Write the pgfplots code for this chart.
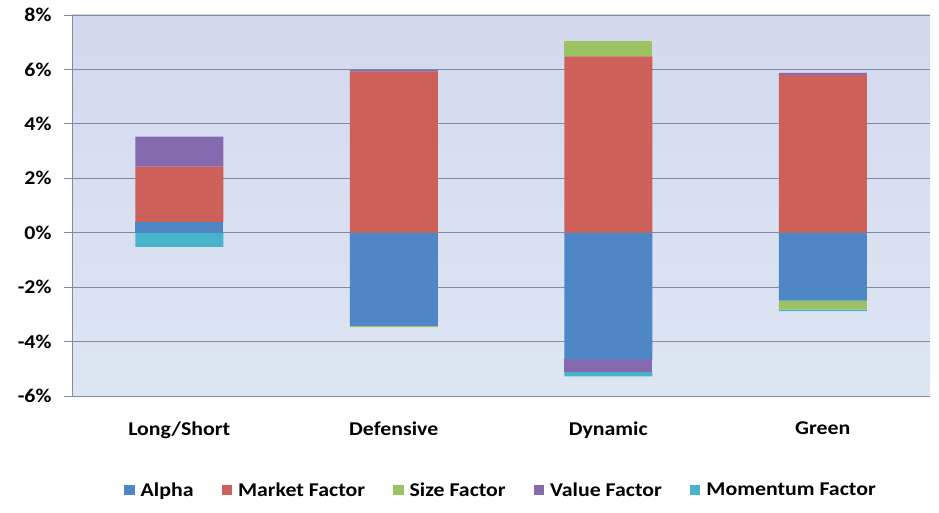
\documentclass[border=0pt]{standalone}
\usepackage{fontspec}
\setmainfont{Carlito}[FakeStretch=1.12]
\usepackage{pgfplots}
\usepackage{pgfplotstable}
\pgfplotsset{compat=1.18}
\definecolor{cAlpha}{RGB}{79,134,198}
\definecolor{cMarket}{RGB}{205,96,88}
\definecolor{cSize}{RGB}{155,195,100}
\definecolor{cValue}{RGB}{134,106,176}
\definecolor{cMom}{RGB}{72,180,204}
\definecolor{gridc}{RGB}{130,138,160}
\definecolor{bgtop}{RGB}{211,217,238}
\definecolor{bgbot}{RGB}{221,230,243}
\newcommand\lf{\fontsize{19.5}{22}\selectfont\bfseries}

\pgfplotstableread{
x alpha market size value mom
0 0.38 2.05 0 1.10 0
1 0 5.92 0 0.06 0
2 0 6.48 0.56 0 0
3 0 5.80 0 0.07 0
}\postab
\pgfplotstableread{
x alpha market size value mom
0 0 0 0 0 -0.52
1 -3.42 0 -0.05 0 0
2 -4.65 0 0 -0.45 -0.18
3 -2.50 0 -0.33 0 -0.05
}\negtab

\pgfplotsset{base/.style={
  scale only axis, width=858pt, height=381pt, at={(72pt,117pt)}, anchor=south west,
  xmin=-0.5, xmax=3.5, ymin=-6, ymax=8,
  ybar stacked, bar width=88pt,
  axis line style={draw=none},
}}

\begin{document}
\begin{tikzpicture}
\path[use as bounding box] (0,0) rectangle (939pt,513pt);
\begin{axis}[base,
  axis background/.style={top color=bgtop, bottom color=bgbot},
  ytick={-6,-4,...,8}, yticklabels={-6\%,-4\%,-2\%,0\%,2\%,4\%,6\%,8\%},
  ytick pos=left, tick align=outside, major tick length=8pt,
  ytick style={gridc, line width=0.8pt},
  yticklabel style={font=\lf, xshift=-9pt},
  ymajorgrids, grid style={gridc, line width=0.8pt},
  xtick={0,1,2,3}, xticklabels={Long/Short,Defensive,Dynamic,Green},
  xtick style={draw=none},
  xticklabel style={font=\lf, yshift=-14pt},
  legend style={at={(0.5,-0.247)}, anchor=center, legend columns=5, draw=none, fill=none, font=\lf,
    /tikz/every odd column/.append style={column sep=4pt},
    /tikz/every even column/.append style={column sep=26pt}},
  legend image code/.code={\fill[#1] (0pt,-5pt) rectangle (10.5pt,5.5pt);},
]
\addplot[fill=cAlpha, draw=none] table[x=x, y=alpha] {\negtab};
\addplot[fill=cMarket, draw=none] table[x=x, y=market] {\negtab};
\addplot[fill=cSize, draw=none] table[x=x, y=size] {\negtab};
\addplot[fill=cValue, draw=none] table[x=x, y=value] {\negtab};
\addplot[fill=cMom, draw=none] table[x=x, y=mom] {\negtab};
\legend{Alpha, Market Factor, Size Factor, Value Factor, Momentum Factor}
\draw[gridc, line width=0.8pt] (rel axis cs:0,0) -- (rel axis cs:0,1);
\end{axis}
\begin{axis}[base, hide axis]
\addplot[fill=cAlpha, draw=none] table[x=x, y=alpha] {\postab};
\addplot[fill=cMarket, draw=none] table[x=x, y=market] {\postab};
\addplot[fill=cSize, draw=none] table[x=x, y=size] {\postab};
\addplot[fill=cValue, draw=none] table[x=x, y=value] {\postab};
\addplot[fill=cMom, draw=none] table[x=x, y=mom] {\postab};
\end{axis}
\end{tikzpicture}
\end{document}
